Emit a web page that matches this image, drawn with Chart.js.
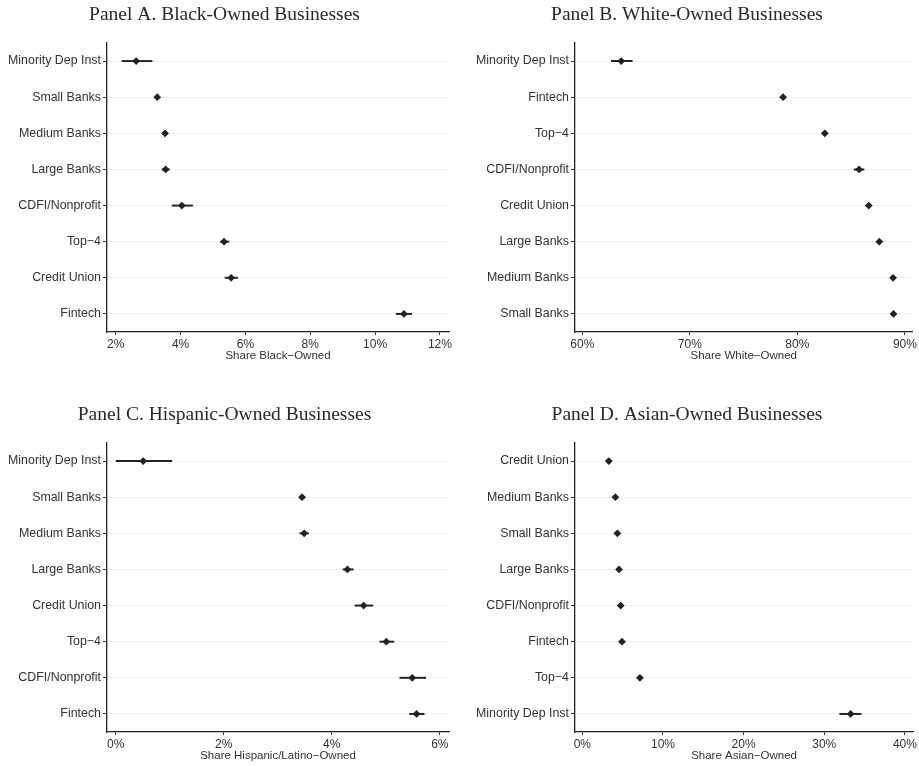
<!DOCTYPE html>
<html>
<head>
<meta charset="utf-8">
<script src="https://cdn.jsdelivr.net/npm/chart.js@4.4.0/dist/chart.umd.min.js"></script>
<style>
  html, body { margin: 0; padding: 0; background: #fff; overflow: hidden; }
  #wrap { position: relative; width: 919px; height: 766px; }
  canvas { position: absolute; }
</style>
</head>
<body>
<div id="wrap">
  <canvas id="panelA" width="459" height="366" style="left:0;top:0"></canvas>
  <canvas id="panelB" width="460" height="366" style="left:459px;top:0"></canvas>
  <canvas id="panelC" width="459" height="366" style="left:0;top:400px"></canvas>
  <canvas id="panelD" width="460" height="366" style="left:459px;top:400px"></canvas>
</div>
<script>
// Panel A - Black-owned
const labelsA = ['Minority Dep Inst', 'Small Banks', 'Medium Banks', 'Large Banks', 'CDFI/Nonprofit', 'Top\u22124', 'Credit Union', 'Fintech'];
const valuesA = [2.63, 3.28, 3.52, 3.54, 4.04, 5.34, 5.56, 10.89];
const lowA = [2.19, 3.22, 3.45, 3.43, 3.74, 5.23, 5.37, 10.65];
const highA = [3.12, 3.34, 3.59, 3.65, 4.37, 5.49, 5.76, 11.13];

// Panel B - White-owned
const labelsB = ['Minority Dep Inst', 'Fintech', 'Top\u22124', 'CDFI/Nonprofit', 'Credit Union', 'Large Banks', 'Medium Banks', 'Small Banks'];
const valuesB = [63.62, 78.67, 82.55, 85.74, 86.64, 87.62, 88.90, 88.94];
const lowB = [62.70, 78.50, 82.40, 85.28, 86.45, 87.45, 88.70, 88.80];
const highB = [64.64, 78.85, 82.70, 86.20, 86.80, 87.80, 89.10, 89.10];

// Panel C - Hispanic-owned
const labelsC = ['Minority Dep Inst', 'Small Banks', 'Medium Banks', 'Large Banks', 'Credit Union', 'Top\u22124', 'CDFI/Nonprofit', 'Fintech'];
const valuesC = [0.51, 3.45, 3.49, 4.29, 4.59, 5.01, 5.49, 5.57];
const lowC = [0.0, 3.40, 3.41, 4.21, 4.43, 4.89, 5.26, 5.44];
const highC = [1.04, 3.50, 3.57, 4.40, 4.76, 5.15, 5.74, 5.71];

// Panel D - Asian-owned
const labelsD = ['Credit Union', 'Medium Banks', 'Small Banks', 'Large Banks', 'CDFI/Nonprofit', 'Fintech', 'Top\u22124', 'Minority Dep Inst'];
const valuesD = [3.28, 4.10, 4.34, 4.55, 4.76, 4.92, 7.14, 33.27];
const lowD = [3.10, 3.90, 4.15, 4.35, 4.55, 4.72, 6.94, 31.92];
const highD = [3.45, 4.30, 4.55, 4.75, 4.95, 5.12, 7.34, 34.58];

const sans = 'Liberation Sans';
const ink = '#222';

const makePanel = (id, title, axisTitle, labels, values, low, high, xmin, xmax, step, plotLeft, padRight) => {
    let ctx = document.getElementById(id).getContext('2d');
    let canvasH = ctx.canvas.height;
    return new Chart(ctx, {
        type: 'bar',
        data: {
            labels: labels,
            datasets: [{
                type: 'line',
                data: values,
                showLine: false,
                pointStyle: 'rectRot',
                pointRadius: 3.9,
                pointBorderWidth: 0,
                pointBackgroundColor: ink,
                order: 0
            }, {
                type: 'bar',
                data: low.map((l, i) => [l, high[i]]),
                backgroundColor: ink,
                barThickness: 1.3,
                borderSkipped: false,
                order: 1
            }]
        },
        options: {
            indexAxis: 'y',
            responsive: false,
            animation: false,
            devicePixelRatio: 1,
            layout: { padding: { left: 0, right: padRight, top: 0, bottom: 0 } },
            plugins: {
                legend: { display: false },
                tooltip: { enabled: false },
                title: {
                    display: true,
                    text: title,
                    color: '#2a2a2a',
                    font: { family: 'Liberation Serif', size: 19.5, weight: 'normal', lineHeight: 1.2 },
                    padding: { top: 3, bottom: 16.6 }
                }
            },
            scales: {
                x: {
                    type: 'linear',
                    min: xmin,
                    max: xmax,
                    afterFit: s => { s.height = canvasH - 332; },
                    border: { color: ink, width: 1.3 },
                    grid: { drawOnChartArea: false, drawTicks: true, tickLength: 3, tickColor: '#333' },
                    ticks: {
                        stepSize: step,
                        includeBounds: false,
                        padding: 2,
                        color: '#333',
                        font: { family: sans, size: 12 },
                        maxRotation: 0,
                        callback: v => v + '%'
                    },
                    title: {
                        display: true,
                        text: axisTitle,
                        color: '#333',
                        font: { family: sans, size: 11.5 },
                        padding: { top: 0, bottom: 3 }
                    }
                },
                y: {
                    type: 'category',
                    afterFit: s => { s.width = plotLeft; },
                    border: { color: ink, width: 1.3 },
                    grid: { offset: false, color: '#f0f0f0', lineWidth: 1, drawTicks: true, tickLength: 4, tickColor: '#333' },
                    ticks: {
                        padding: 2,
                        color: '#333',
                        font: { family: sans, size: 12.4 }
                    }
                }
            }
        }
    });
};

makePanel('panelA', 'Panel A. Black-Owned Businesses', 'Share Black\u2212Owned', labelsA, valuesA, lowA, highA, 1.73, 12.28, 2, 107, 10);
makePanel('panelB', 'Panel B. White-Owned Businesses', 'Share White\u2212Owned', labelsB, valuesB, lowB, highB, 59.32, 90.71, 10, 116, 4);
makePanel('panelC', 'Panel C. Hispanic-Owned Businesses', 'Share Hispanic/Latino\u2212Owned', labelsC, valuesC, lowC, highC, -0.16, 6.17, 2, 107, 10);
makePanel('panelD', 'Panel D. Asian-Owned Businesses', 'Share Asian\u2212Owned', labelsD, valuesD, lowD, highD, -0.91, 41.02, 10, 116, 4);
</script>
</body>
</html>
